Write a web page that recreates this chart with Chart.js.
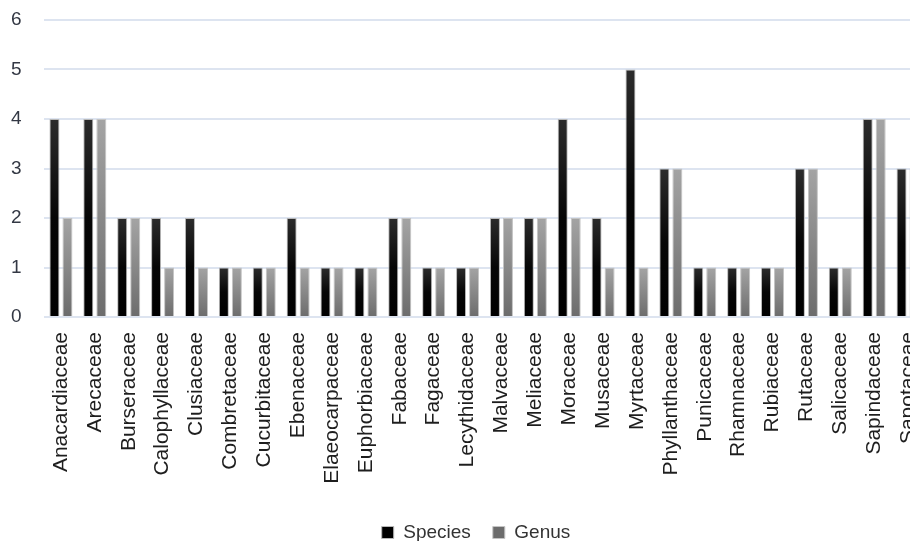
<!DOCTYPE html>
<html>
<head>
<meta charset="utf-8">
<script src="https://cdn.jsdelivr.net/npm/chart.js@4.4.1/dist/chart.umd.min.js"></script>
<style>
  html, body { margin: 0; padding: 0; background: #fff; overflow: hidden; }
  #wrap { width: 910px; height: 541px; overflow: hidden; }
</style>
</head>
<body>
<div id="wrap"><canvas id="grafico" width="941" height="552"></canvas></div>
<script>
var familias = [
  "Anacardiaceae", "Arecaceae", "Burseraceae", "Calophyllaceae", "Clusiaceae",
  "Combretaceae", "Cucurbitaceae", "Ebenaceae", "Elaeocarpaceae", "Euphorbiaceae",
  "Fabaceae", "Fagaceae", "Lecythidaceae", "Malvaceae", "Meliaceae", "Moraceae",
  "Musaceae", "Myrtaceae", "Phyllanthaceae", "Punicaceae", "Rhamnaceae",
  "Rubiaceae", "Rutaceae", "Salicaceae", "Sapindaceae", "Sapotaceae"
];

var especies = [4, 4, 2, 2, 2, 1, 1, 2, 1, 1, 2, 1, 1, 2, 2, 4, 2, 5, 3, 1, 1, 1, 3, 1, 4, 3];
var generos  = [2, 4, 2, 1, 1, 1, 1, 1, 1, 1, 2, 1, 1, 2, 2, 2, 1, 1, 3, 1, 1, 1, 3, 1, 4, 3];

var yTicks = [0, 1, 2, 3, 4, 5, 6];

var fonte = "'Liberation Sans', Arial, sans-serif";

// gradiente vertical por barra, do topo até a base
function gradiente(paradas, solido) {
  return function (context) {
    var chart = context.chart;
    if (context.type !== "data" || !chart.chartArea) return solido;
    var y = chart.scales.y;
    var topo = y.getPixelForValue(context.raw);
    var base = y.getPixelForValue(0);
    if (!isFinite(topo) || !isFinite(base) || topo === base) return solido;
    var g = chart.ctx.createLinearGradient(0, topo, 0, base);
    paradas.forEach(p => g.addColorStop(p[0], p[1]));
    return g;
  };
}

var ctx = document.getElementById("grafico").getContext("2d");

new Chart(ctx, {
  type: "bar",
  data: {
    labels: familias,
    datasets: [
      {
        label: "Species",
        data: especies,
        backgroundColor: gradiente([[0, "#2c2c2c"], [0.5, "#060606"], [1, "#000000"]], "#000000"),
        borderColor: "#b8b8b8",
        borderWidth: 1,
        categoryPercentage: 0.768,
        barPercentage: 0.77
      },
      {
        label: "Genus",
        data: generos,
        backgroundColor: gradiente([[0, "#a4a4a4"], [1, "#6c6c6c"]], "#8c8c8c"),
        borderColor: "#c4c4c4",
        borderWidth: 1,
        categoryPercentage: 0.768,
        barPercentage: 0.77
      }
    ]
  },
  options: {
    responsive: false,
    animation: false,
    devicePixelRatio: 1,
    layout: { padding: { top: 20, right: 0, left: 11, bottom: 0 } },
    plugins: {
      tooltip: { enabled: false },
      legend: {
        position: "bottom",
        labels: {
          boxWidth: 12,
          boxHeight: 12,
          padding: 22,
          color: "#333333",
          font: { family: fonte, size: 19 }
        }
      }
    },
    scales: {
      x: {
        offset: true,
        grid: { display: false },
        border: { display: false },
        ticks: {
          autoSkip: false,
          minRotation: 90,
          maxRotation: 90,
          padding: 7,
          color: "#1e1e1e",
          font: { family: fonte, size: 21 }
        },
        afterFit: function (scale) { scale.height = 184; }
      },
      y: {
        min: 0,
        max: 6,
        afterBuildTicks: function (scale) { scale.ticks = yTicks.map(v => ({ value: v })); },
        grid: { color: "#dde4f0", lineWidth: 2, drawTicks: false },
        border: { display: false },
        ticks: {
          padding: 0,
          crossAlign: "far",
          color: "#333844",
          font: { family: fonte, size: 19 }
        },
        afterFit: function (scale) { scale.width = 33; }
      },
      margem: {
        type: "linear",
        position: "right",
        grid: { display: false },
        border: { display: false },
        ticks: { display: false },
        afterFit: function (scale) { scale.width = 16; }
      }
    }
  }
});
</script>
</body>
</html>
